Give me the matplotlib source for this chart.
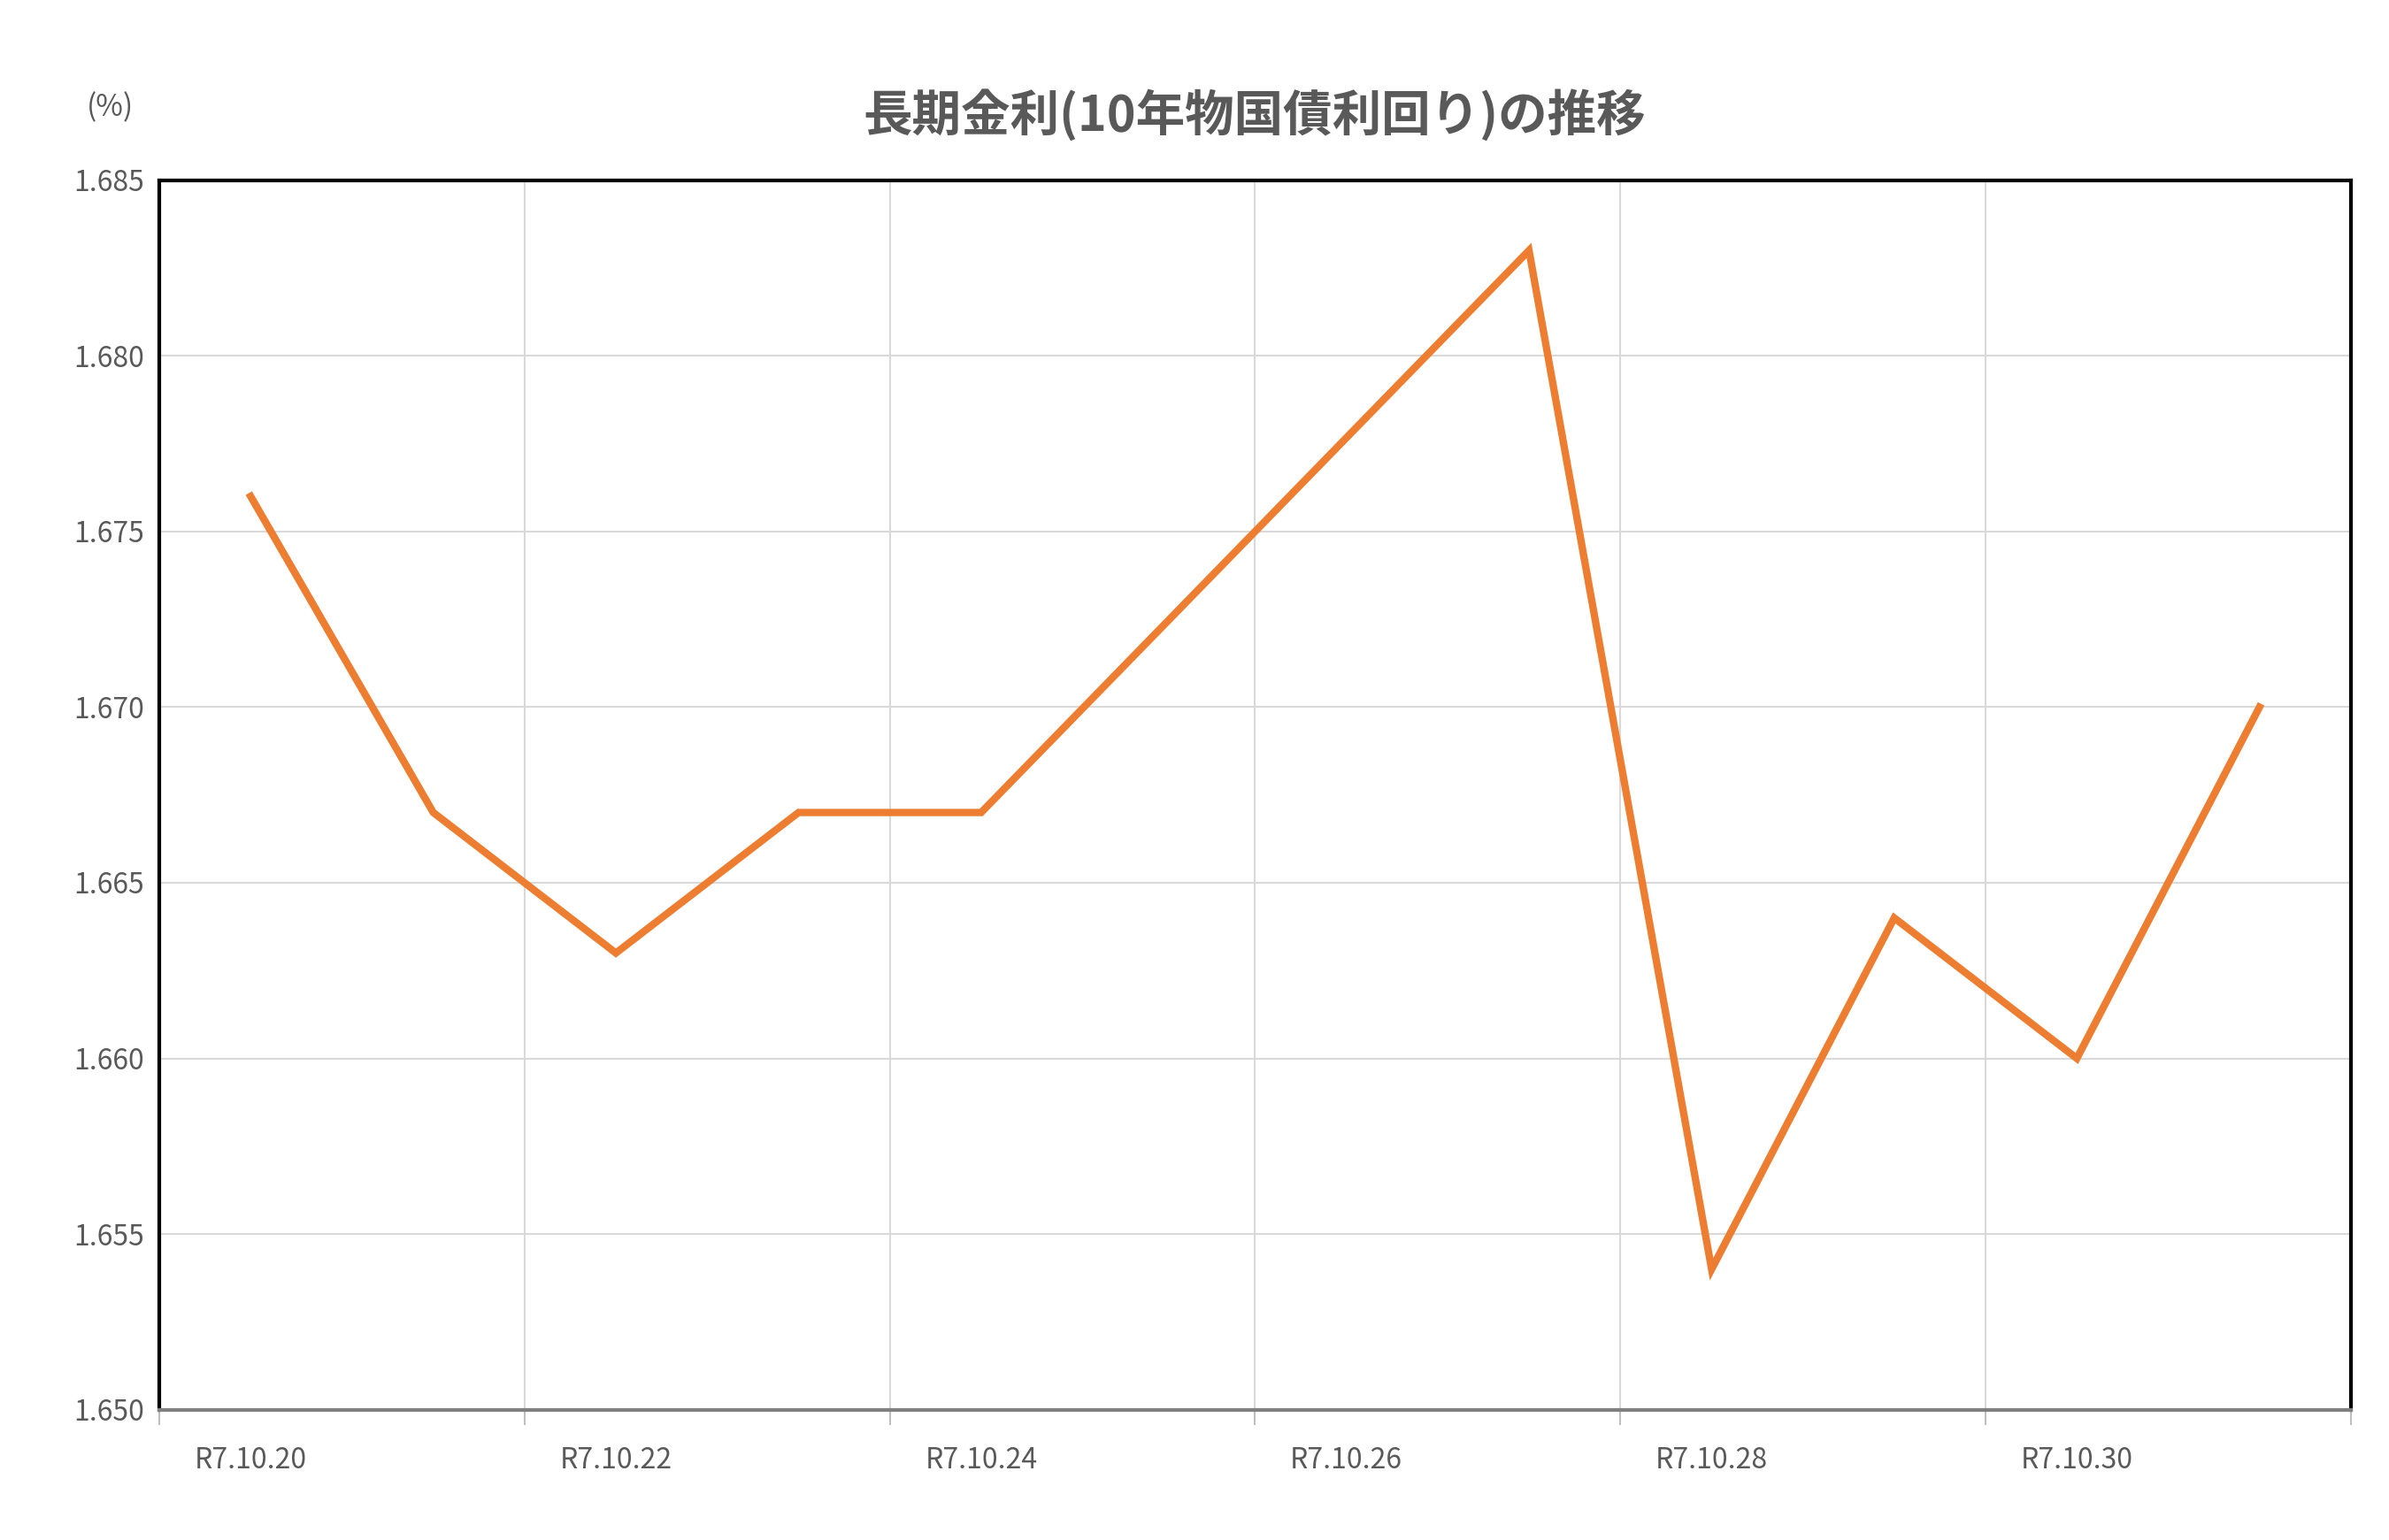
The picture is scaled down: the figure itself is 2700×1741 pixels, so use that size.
import matplotlib.pyplot as plt
import numpy as np

plt.rcParams['font.family'] = ['Noto Sans CJK JP', 'DejaVu Sans']

dates = ['R7.10.20', 'R7.10.21', 'R7.10.22', 'R7.10.23', 'R7.10.24', 'R7.10.25',
         'R7.10.26', 'R7.10.27', 'R7.10.28', 'R7.10.29', 'R7.10.30', 'R7.10.31']
yields = [1.676, 1.667, 1.663, 1.667, 1.667, np.nan,
          np.nan, 1.683, 1.654, 1.664, 1.660, 1.670]

x = np.arange(len(dates))
y = np.array(yields)
ok = ~np.isnan(y)

fig = plt.figure(figsize=(27, 17.41), dpi=100)
ax = fig.add_axes([0.0667, 0.0846, 0.9173, 0.7984])

ax.plot(x[ok], y[ok], color='#ED7D31', lw=6, solid_joinstyle='miter')

ax.set_xlim(-0.5, len(dates) - 0.5)
ax.set_ylim(1.650, 1.685)
ax.set_yticks(np.arange(1.650, 1.6851, 0.005))
ax.set_yticklabels([f'{v:.3f}' for v in np.arange(1.650, 1.6851, 0.005)])
ax.set_xticks(x[::2])
ax.set_xticklabels(dates[::2])
ax.set_xticks(np.arange(-0.5, len(dates), 2), minor=True)
ax.tick_params(axis='x', which='major', length=0, pad=30, labelsize=23, labelcolor='#595959')
ax.tick_params(axis='x', which='minor', length=12, color='#BFBFBF', width=1.5)
ax.tick_params(axis='y', length=0, pad=12, labelsize=23, labelcolor='#595959')
ax.grid(True, which='minor', axis='x', color='#D9D9D9', lw=1.5)
ax.grid(True, which='major', axis='y', color='#D9D9D9', lw=1.5)
ax.set_axisbelow(True)

for s in ['left', 'top', 'right']:
    ax.spines[s].set_color('black')
    ax.spines[s].set_linewidth(3)
ax.spines['bottom'].set_color('#808080')
ax.spines['bottom'].set_linewidth(3)

fig.text(0.525, 0.925, '長期金利(10年物国債利回り)の推移', ha='center', va='center',
         fontsize=40, fontweight='bold', color='#595959')
fig.text(0.046, 0.93, '(%)', ha='center', va='center', fontsize=24, color='#595959')

fig.savefig('out.png')
